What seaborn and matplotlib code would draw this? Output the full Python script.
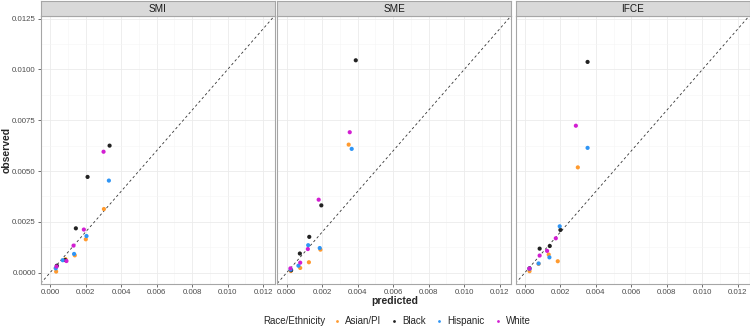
import numpy as np
import pandas as pd
import matplotlib
matplotlib.use("Agg")
import matplotlib.pyplot as plt
from matplotlib.lines import Line2D
import seaborn as sns

sns.set_theme(style="white")
plt.rcParams["font.family"] = ["Liberation Sans", "DejaVu Sans"]

methods = ["SMI", "SME", "IFCE"]
races = ["Asian/PI", "Black", "Hispanic", "White"]
colors = {"Asian/PI": "#FF9A2E", "Black": "#222222", "Hispanic": "#2F95F5", "White": "#D21ED2"}

# values in units of 1e-3
smi_pred = {"Asian/PI": [3.03, 2.01, 1.39, 0.87, 0.34],
            "Black":    [3.35, 2.11, 1.45, 0.85, 0.38],
            "Hispanic": [3.31, 2.05, 1.35, 0.71, 0.32],
            "White":    [3.01, 1.90, 1.32, 0.92, 0.36]}
smi_obs = {"Asian/PI": [3.13, 1.64, 0.85, 0.66, 0.05],
           "Black":    [6.25, 4.71, 2.18, 0.62, 0.34],
           "Hispanic": [4.53, 1.80, 0.92, 0.61, 0.21],
           "White":    [5.95, 2.12, 1.33, 0.57, 0.30]}

sme_pred = {"Asian/PI": [3.49, 1.90, 1.25, 0.76, 0.23],
            "Black":    [3.89, 1.95, 1.27, 0.74, 0.25],
            "Hispanic": [3.66, 1.86, 1.21, 0.66, 0.22],
            "White":    [3.55, 1.80, 1.19, 0.76, 0.21]}
sme_obs = {"Asian/PI": [6.30, 1.13, 0.51, 0.23, 0.08],
           "Black":    [10.45, 3.31, 1.76, 0.94, 0.12],
           "Hispanic": [6.09, 1.21, 1.35, 0.34, 0.15],
           "White":    [6.91, 3.59, 1.16, 0.49, 0.21]}

ifce_pred = {"Asian/PI": [2.98, 1.85, 1.34, 0.77, 0.26],
             "Black":    [3.53, 2.00, 1.40, 0.83, 0.26],
             "Hispanic": [3.53, 1.96, 1.38, 0.77, 0.26],
             "White":    [2.87, 1.74, 1.25, 0.83, 0.25]}
ifce_obs = {"Asian/PI": [5.18, 0.56, 0.89, 0.43, 0.07],
            "Black":    [10.37, 2.10, 1.31, 1.18, 0.21],
            "Hispanic": [6.14, 2.28, 0.75, 0.45, 0.19],
            "White":    [7.23, 1.69, 1.07, 0.84, 0.20]}

x_ticks = [0.000, 0.002, 0.004, 0.006, 0.008, 0.010, 0.012]
y_ticks = [0.0000, 0.0025, 0.0050, 0.0075, 0.0100, 0.0125]

rows = []
for m, P, O in [("SMI", smi_pred, smi_obs), ("SME", sme_pred, sme_obs), ("IFCE", ifce_pred, ifce_obs)]:
    for r in races:
        for p, o in zip(P[r], O[r]):
            rows.append({"method": m, "race": r, "predicted": p / 1000, "observed": o / 1000})
df = pd.DataFrame(rows)

W, H = 750, 329
fig = plt.figure(figsize=(W / 100, H / 100), dpi=100)
lefts = [40.7, 277.3, 515.5]
pw = 234.0
ptop, pbot = 16.0, 284.0
lim = (-0.00053, 0.01265)
ylim = (-0.00056, 0.01263)
border = "#A6A6A6"

for i, m in enumerate(methods):
    ax = fig.add_axes([lefts[i] / W, 1 - pbot / H, pw / W, (pbot - ptop) / H])
    ax.set_facecolor("white")
    ax.set_xlim(*lim)
    ax.set_ylim(*ylim)
    ax.set_xticks(x_ticks)
    ax.set_yticks(y_ticks)
    ax.set_xticks([0.001, 0.003, 0.005, 0.007, 0.009, 0.011], minor=True)
    ax.set_yticks([0.00125, 0.00375, 0.00625, 0.00875, 0.01125], minor=True)
    ax.grid(True, which="major", color="#EBEBEB", linewidth=0.6)
    ax.grid(True, which="minor", color="#F5F5F5", linewidth=0.4)
    ax.set_axisbelow(True)
    ax.plot([lim[0], lim[1]], [lim[0], lim[1]], ls=(0, (3, 3)), color="#333333", lw=0.6, zorder=1)
    sub = df[df["method"] == m]
    sns.scatterplot(data=sub, x="predicted", y="observed", hue="race", palette=colors,
                    hue_order=races, s=9, linewidth=0, legend=False, ax=ax, zorder=3)
    ax.set_xlabel("")
    ax.set_ylabel("")
    ax.set_xticklabels(["0.000", "0.002", "0.004", "0.006", "0.008", "0.010", "0.012"])
    ax.tick_params(axis="x", which="major", length=2, width=0.5, color="#333333",
                   labelsize=5.7, labelcolor="#4D4D4D", pad=1.5, bottom=True)
    ax.tick_params(which="minor", length=0)
    if i == 0:
        ax.set_yticklabels(["0.0000", "0.0025", "0.0050", "0.0075", "0.0100", "0.0125"])
        ax.tick_params(axis="y", which="major", length=2, width=0.5, color="#333333",
                       labelsize=5.7, labelcolor="#4D4D4D", pad=1.5, left=True)
    else:
        ax.tick_params(axis="y", which="major", left=False, labelleft=False)
    for s in ax.spines.values():
        s.set_color(border)
        s.set_linewidth(0.8)
    # strip
    sax = fig.add_axes([lefts[i] / W, 1 - ptop / H, pw / W, 15 / H])
    sax.set_facecolor("#D9D9D9")
    sax.set_xticks([])
    sax.set_yticks([])
    for s in sax.spines.values():
        s.set_color(border)
        s.set_linewidth(0.8)
    sax.text(0.5, 0.48, m, ha="center", va="center", fontsize=7.2, color="#1A1A1A",
             transform=sax.transAxes)

fig.text(7 / W, 1 - 150 / H, "observed", rotation=90, ha="center", va="center",
         fontsize=7.5, fontweight="bold")
fig.text(395 / W, 1 - 301 / H, "predicted", ha="center", va="center",
         fontsize=7.5, fontweight="bold")

fig.text(263 / W, 1 - 321.5 / H, "Race/Ethnicity", ha="left", va="center", fontsize=7)
handles = [Line2D([], [], marker="o", ls="", markersize=2, markeredgewidth=0,
                  color=colors[r]) for r in races]
fig.legend(handles, races, loc="center left", bbox_to_anchor=(332 / W, 1 - 321.5 / H),
           ncol=4, frameon=False, fontsize=7, handlelength=1.0, handletextpad=0.3,
           columnspacing=0.9, borderpad=0, borderaxespad=0)

fig.savefig("out.png", dpi=100)
